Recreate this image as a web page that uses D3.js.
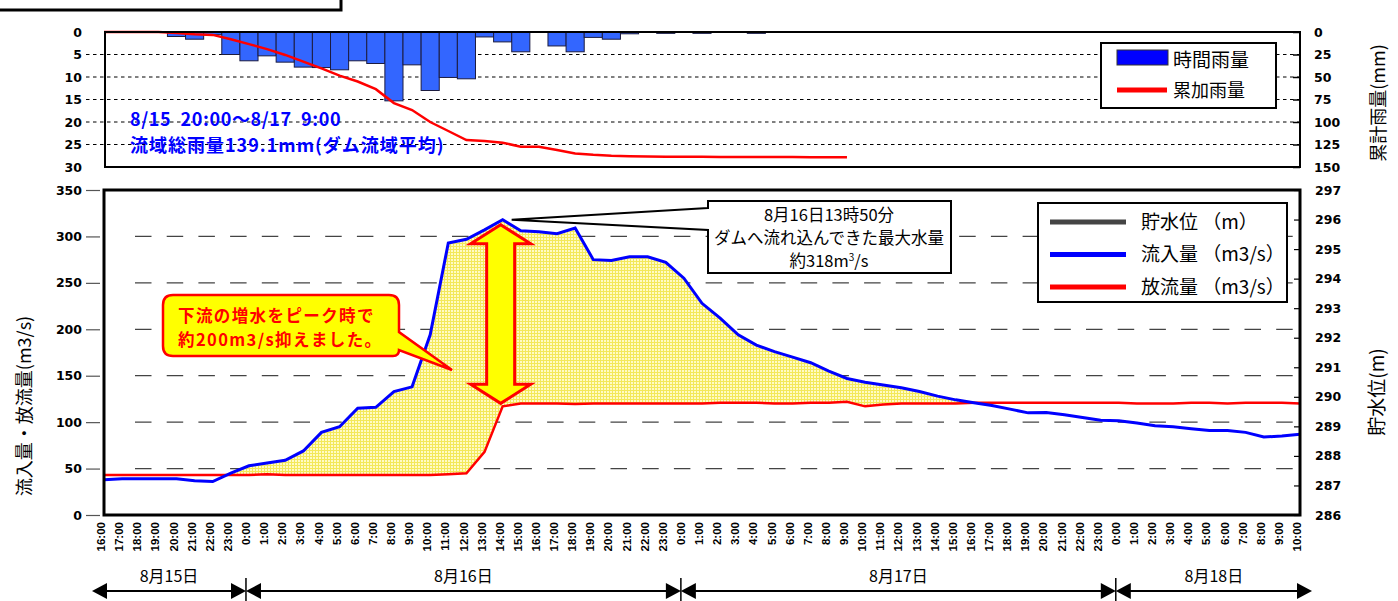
<!DOCTYPE html>
<html>
<head>
<meta charset="utf-8">
<script src="https://cdn.jsdelivr.net/npm/d3@7"></script>
<style>
  body { margin: 0; background: #fff; }
  svg { display: block; }
  .num text { font-family: "DejaVu Sans", sans-serif; font-weight: bold; font-size: 12.5px; fill: #000; }
  .jp { font-family: "Noto Sans CJK JP", sans-serif; }
</style>
</head>
<body>
<div id="svg-container"></div>
<script>
////////////////////////////////////////////////////////////////////
////////////////////////////  Data  ////////////////////////////////
const timeLabels = (
  "16:00 17:00 18:00 19:00 20:00 21:00 22:00 23:00 " +
  "0:00 1:00 2:00 3:00 4:00 5:00 6:00 7:00 8:00 9:00 10:00 11:00 12:00 13:00 14:00 15:00 16:00 17:00 18:00 19:00 20:00 21:00 22:00 23:00 " +
  "0:00 1:00 2:00 3:00 4:00 5:00 6:00 7:00 8:00 9:00 10:00 11:00 12:00 13:00 14:00 15:00 16:00 17:00 18:00 19:00 20:00 21:00 22:00 23:00 " +
  "0:00 1:00 2:00 3:00 4:00 5:00 6:00 7:00 8:00 9:00 10:00"
).split(" ");

const days = ["8月15日", "8月16日", "8月17日", "8月18日"];
const dayStart = [0, 8, 32, 56]; // index of first hour of each day

// 時間雨量 (mm)
const rainHourly = [
  0, 0, 0, 0, 1.0, 1.6, 0.6, 5.0,
  6.4, 5.3, 6.7, 7.8, 7.9, 8.4, 6.4, 7.0, 15.3, 7.3, 13.0, 10.1, 10.4, 1.1, 2.2, 4.4,
  0, 3.1, 4.4, 1.2, 1.6, 0.4, 0.1, 0.3,
  0, 0.3, 0, 0, 0.3, 0, 0, 0, 0, 0, 0, 0, 0, 0, 0, 0, 0, 0, 0, 0, 0, 0, 0, 0,
  0, 0, 0, 0, 0, 0, 0, 0, 0, 0, 0
];
// 累加雨量 (mm), until 8/17 9:00
const rainCumulative = [
  0, 0, 0, 0, 1, 2.5, 3.2, 8,
  13.5, 19, 25.5, 33, 40.5, 48.5, 55, 63.5, 79, 86.7, 100, 110, 120, 121, 123, 127.5,
  127.5, 131, 135, 136.5, 137.5, 138, 138.3, 138.5,
  138.5, 138.7, 138.8, 138.8, 138.9, 139, 139, 139.1, 139.1, 139.1
];
// 流入量 (m3/s)
const inflow = [
  38, 39, 39, 39, 39, 37, 36, 45,
  53, 56, 59, 69, 89, 95, 115, 116, 133, 138, 194, 293, 297, 307, 318, 306,
  305, 303, 309, 275, 274, 278, 278, 272,
  255, 228, 212, 194, 183, 176, 170, 164, 155, 147, 143, 140, 137, 133, 128, 124,
  121, 118, 114, 110, 110.5, 108, 105, 102,
  101.5, 99, 96, 95, 93, 91, 91, 89, 84, 85, 87
];
// 放流量 (m3/s)
const outflow = [
  43, 43, 43, 43, 43, 43, 43, 43,
  43, 44, 43, 43, 43, 43, 43, 43, 43, 43, 43, 44, 45, 68, 117, 120,
  120, 120, 119.5, 120, 120, 120, 120, 120,
  120, 120, 121, 121, 121, 120, 120, 121, 121, 122, 117, 119, 120, 120, 120, 120,
  121, 121, 121, 121, 121, 121, 121, 121,
  121, 120, 120, 120, 121, 121, 120, 121, 121, 121, 120
];

const rainTicks = [0, 5, 10, 15, 20, 25, 30];
const cumTicks = [0, 25, 50, 75, 100, 125, 150];
const flowTicks = [0, 50, 100, 150, 200, 250, 300, 350];
const levelTicks = [286, 287, 288, 289, 290, 291, 292, 293, 294, 295, 296, 297];
const peakIndex = 22;

////////////////////////////////////////////////////////////////////
////////////////////////////  Init  ////////////////////////////////
const width = 1398, height = 601;
const svg = d3.select("#svg-container").append("svg")
  .attr("width", width).attr("height", height);

const top1 = { left: 105, right: 1300, top: 32, bottom: 167 };
const top2 = { left: 104, right: 1300, top: 190, bottom: 515 };

const xScale = d3.scalePoint().domain(d3.range(timeLabels.length)).range([top2.left, top2.right]);
const step = xScale.step();

const yRain = d3.scaleLinear().domain([0, 30]).range([top1.top, top1.bottom]);
const yCum = d3.scaleLinear().domain([0, 150]).range([top1.top, top1.bottom]);
const yFlow = d3.scaleLinear().domain([0, 350]).range([top2.bottom, top2.top]);
const yLevel = d3.scaleLinear().domain([286, 297]).range([top2.bottom, top2.top]);

// pattern for the held-back water
const defs = svg.append("defs");
const pat = defs.append("pattern").attr("id", "dots")
  .attr("width", 3).attr("height", 3).attr("patternUnits", "userSpaceOnUse");
pat.append("rect").attr("width", 3).attr("height", 3).attr("fill", "#fffbc4");
pat.append("rect").attr("width", 1).attr("height", 3).attr("fill", "#f3e85a");
pat.append("rect").attr("width", 3).attr("height", 1).attr("fill", "#f3e85a");

// title box (cut off at top)
svg.append("rect").attr("x", -4).attr("y", -30).attr("width", 345).attr("height", 40)
  .attr("fill", "none").attr("stroke", "#000").attr("stroke-width", 3);

////////////////////////////////////////////////////////////////////
////////////////////////////  Rain chart  //////////////////////////
// grid
svg.append("g").selectAll("line")
  .data(rainTicks.slice(1, -1))
  .join("line")
  .attr("x1", 86).attr("x2", top1.right)
  .attr("y1", (d) => yRain(d)).attr("y2", (d) => yRain(d))
  .attr("stroke", "#000").attr("stroke-width", 1).attr("stroke-dasharray", "3.5,3.5");

// bars
svg.append("g").selectAll("rect")
  .data(rainHourly.map((v, i) => ({ v, i })).filter((d) => d.v > 0))
  .join("rect")
  .attr("x", (d) => xScale(d.i) - step / 2)
  .attr("width", step)
  .attr("y", yRain(0))
  .attr("height", (d) => yRain(d.v) - yRain(0))
  .attr("fill", "#3366ff")
  .attr("stroke", "#1c1c40").attr("stroke-width", 1);

// cumulative
const cumLine = d3.line().x((d, i) => xScale(i)).y((d) => yCum(d));
svg.append("path").datum(rainCumulative)
  .attr("d", cumLine).attr("fill", "none")
  .attr("stroke", "#ff0000").attr("stroke-width", 2.5);

// frame
svg.append("rect")
  .attr("x", top1.left).attr("y", top1.top)
  .attr("width", top1.right - top1.left).attr("height", top1.bottom - top1.top)
  .attr("fill", "none").attr("stroke", "#000").attr("stroke-width", 2);

// axes
svg.append("g").attr("class", "num")
  .attr("transform", `translate(${86},0)`)
  .call(d3.axisLeft(yRain).tickValues(rainTicks).tickSize(0).tickPadding(4))
  .call((g) => g.select(".domain").remove());

svg.append("g").attr("class", "num")
  .attr("transform", `translate(${top1.right},0)`)
  .call(d3.axisRight(yCum).tickValues(cumTicks).tickSize(-7).tickPadding(14))
  .call((g) => g.select(".domain").remove())
  .call((g) => g.selectAll("line").attr("stroke-width", 1.5));

svg.append("text").attr("class", "jp")
  .attr("transform", `translate(1379,103) rotate(-90)`)
  .attr("text-anchor", "middle").attr("dy", "0.35em")
  .attr("font-size", 18).attr("fill", "#000").text("累計雨量(mm)");

// legend
const lg1 = svg.append("g");
lg1.append("rect").attr("x", 1101).attr("y", 43).attr("width", 175).attr("height", 65)
  .attr("fill", "#fff").attr("stroke", "#000").attr("stroke-width", 2);
lg1.append("rect").attr("x", 1117).attr("y", 50).attr("width", 51).attr("height", 15)
  .attr("fill", "#0000ff").attr("stroke", "#333").attr("stroke-width", 1);
lg1.append("line").attr("x1", 1117).attr("x2", 1167).attr("y1", 90).attr("y2", 90)
  .attr("stroke", "#ff0000").attr("stroke-width", 5);
lg1.append("text").attr("class", "jp").attr("x", 1173).attr("y", 60).attr("dy", "0.36em")
  .attr("font-size", 19).text("時間雨量");
lg1.append("text").attr("class", "jp").attr("x", 1173).attr("y", 91).attr("dy", "0.36em")
  .attr("font-size", 18).text("累加雨量");

// total rain note
const note = svg.append("g").attr("class", "jp")
  .attr("fill", "#0000ff").attr("font-weight", "bold").attr("font-size", 18);
note.append("text").attr("x", 130).attr("y", 120).attr("dy", "0.36em")
  .attr("xml:space", "preserve").attr("letter-spacing", 0.6).text("8/15  20:00～8/17  9:00");
note.append("text").attr("x", 130).attr("y", 146).attr("dy", "0.36em")
  .attr("letter-spacing", 1).text("流域総雨量139.1mm(ダム流域平均)");

////////////////////////////////////////////////////////////////////
////////////////////////////  Flow chart  //////////////////////////
// grid
svg.append("g").selectAll("line")
  .data(flowTicks.slice(1, -1))
  .join("line")
  .attr("x1", 135).attr("x2", top2.right)
  .attr("y1", (d) => yFlow(d)).attr("y2", (d) => yFlow(d))
  .attr("stroke", "#444").attr("stroke-width", 1.2).attr("stroke-dasharray", "16.5,15.2");

// fill between inflow and outflow
const area = d3.area()
  .x((d, i) => xScale(i))
  .y0((d, i) => yFlow(outflow[i]))
  .y1((d, i) => yFlow(Math.max(d, outflow[i])));
svg.append("path").datum(inflow).attr("d", area).attr("fill", "url(#dots)");

const flowLine = d3.line().x((d, i) => xScale(i)).y((d) => yFlow(d));
svg.append("path").datum(outflow).attr("d", flowLine)
  .attr("fill", "none").attr("stroke", "#ff0000").attr("stroke-width", 2.5);
svg.append("path").datum(inflow).attr("d", flowLine)
  .attr("fill", "none").attr("stroke", "#0000ff").attr("stroke-width", 3);

// frame
svg.append("rect")
  .attr("x", top2.left).attr("y", top2.top)
  .attr("width", top2.right - top2.left).attr("height", top2.bottom - top2.top)
  .attr("fill", "none").attr("stroke", "#000").attr("stroke-width", 3);

// axes
svg.append("g").attr("class", "num")
  .attr("transform", `translate(${top2.left},0)`)
  .call(d3.axisLeft(yFlow).tickValues(flowTicks).tickSize(18).tickPadding(4))
  .call((g) => g.select(".domain").remove())
  .call((g) => g.selectAll("line").attr("stroke", "#555").attr("stroke-width", 1.2).attr("x2", -18).attr("x1", -4));

svg.append("g").attr("class", "num")
  .attr("transform", `translate(${top2.right},0)`)
  .call(d3.axisRight(yLevel).tickValues(levelTicks).tickSize(-6).tickPadding(15))
  .call((g) => g.select(".domain").remove())
  .call((g) => g.selectAll("line").attr("stroke-width", 1.2));

svg.append("text").attr("class", "jp")
  .attr("transform", `translate(25,406) rotate(-90)`)
  .attr("text-anchor", "middle").attr("dy", "0.35em")
  .attr("font-size", 18).attr("fill", "#000").text("流入量・放流量(m3/s)");
svg.append("text").attr("class", "jp")
  .attr("transform", `translate(1377,392) rotate(-90)`)
  .attr("text-anchor", "middle").attr("dy", "0.35em")
  .attr("font-size", 19).attr("fill", "#000").text("貯水位(m)");

// time labels
svg.append("g")
  .attr("transform", `translate(0,${top2.bottom})`)
  .call(d3.axisBottom(xScale).tickSize(0).tickFormat((i) => timeLabels[i]))
  .call((g) => g.select(".domain").remove())
  .call((g) => g.selectAll("text")
    .attr("transform", "rotate(-90)")
    .attr("x", -7).attr("y", 0).attr("dy", "0.05em")
    .attr("text-anchor", "end")
    .attr("font-family", "'Liberation Sans', Arial, sans-serif")
    .attr("font-weight", "bold").attr("font-size", 11.5).attr("fill", "#000"));

// legend
const lg2 = svg.append("g");
lg2.append("rect").attr("x", 1038).attr("y", 203).attr("width", 249).attr("height", 99)
  .attr("fill", "#fff").attr("stroke", "#000").attr("stroke-width", 2);
const lg2Items = [
  { label: "貯水位 （m）", color: "#444" },
  { label: "流入量 （m3/s）", color: "#0000ff" },
  { label: "放流量 （m3/s）", color: "#ff0000" },
];
lg2Items.forEach((d, k) => {
  const yy = 222 + k * 32.5;
  lg2.append("line").attr("x1", 1050).attr("x2", 1126).attr("y1", yy).attr("y2", yy)
    .attr("stroke", d.color).attr("stroke-width", 5);
  lg2.append("text").attr("class", "jp").attr("x", 1141).attr("y", yy).attr("dy", "0.36em")
    .attr("font-size", 19).attr("xml:space", "preserve").text(d.label);
});

////////////////////////////////////////////////////////////////////
////////////////////////////  Annotations  /////////////////////////
// peak call-out box
const px = xScale(peakIndex) + 9, py = yFlow(inflow[peakIndex]);
svg.append("path")
  .attr("d", `M708,208 L${px},${py} L708,230 V273 H951 V201 H708 Z`)
  .attr("fill", "#fff").attr("stroke", "#000").attr("stroke-width", 2);
const peakText = svg.append("text").attr("class", "jp").attr("text-anchor", "middle")
  .attr("font-size", 16.5).attr("fill", "#000");
peakText.append("tspan").attr("x", 829).attr("y", 221).text("8月16日13時50分");
peakText.append("tspan").attr("x", 829).attr("y", 244).text("ダムへ流れ込んできた最大水量");
const t3 = peakText.append("tspan").attr("x", 829).attr("y", 267).text("約318m");
t3.append("tspan").attr("dy", -6).attr("font-size", 10).text("3");
t3.append("tspan").attr("dy", 6).text("/s");

// double arrow between inflow and outflow
const ax = xScale(peakIndex) - 2;
const aTop = yFlow(inflow[peakIndex]) + 5, aBot = yFlow(outflow[peakIndex]) - 3;
const hw = 30, sw = 14, hh = 19;
svg.append("path")
  .attr("d", `M${ax},${aTop} L${ax + hw},${aTop + hh} L${ax + sw},${aTop + hh} L${ax + sw},${aBot - hh}
    L${ax + hw},${aBot - hh} L${ax},${aBot} L${ax - hw},${aBot - hh} L${ax - sw},${aBot - hh}
    L${ax - sw},${aTop + hh} L${ax - hw},${aTop + hh} Z`)
  .attr("fill", "#ffff00").attr("stroke", "#ff0000").attr("stroke-width", 3)
  .attr("stroke-linejoin", "miter");

// speech bubble
svg.append("path")
  .attr("d", "M173,295 H389 Q399,295 399,305 V332 L452,370 L399,350 Q399,356 393,356 H173 Q163,356 163,346 V305 Q163,295 173,295 Z")
  .attr("fill", "#ffff00").attr("stroke", "#ff0000").attr("stroke-width", 2.5);
const bub = svg.append("g").attr("class", "jp").attr("fill", "#ff0000")
  .attr("font-weight", "bold").attr("font-size", 16.5).attr("letter-spacing", 1.4);
bub.append("text").attr("x", 178).attr("y", 322).text("下流の増水をピーク時で");
bub.append("text").attr("x", 178).attr("y", 346).text("約200m3/s抑えました。");

////////////////////////////////////////////////////////////////////
////////////////////////////  Day arrows  //////////////////////////
const arrowY = 591;
const dayEdge = dayStart.map((i) => xScale(i) - 3);
dayEdge[0] = xScale(0) - 12;
dayEdge.push(xScale(timeLabels.length - 1) + 12);

const dayG = svg.append("g");
days.forEach((d, k) => {
  const x0 = dayEdge[k], x1 = dayEdge[k + 1];
  dayG.append("line").attr("x1", x0 + 4).attr("x2", x1 - 4).attr("y1", arrowY).attr("y2", arrowY)
    .attr("stroke", "#000").attr("stroke-width", 2);
  dayG.append("path").attr("d", `M${x0},${arrowY} l15,-8 v16 Z`).attr("fill", "#000");
  dayG.append("path").attr("d", `M${x1},${arrowY} l-15,-8 v16 Z`).attr("fill", "#000");
  dayG.append("text").attr("class", "jp").attr("x", (x0 + x1) / 2).attr("y", 576)
    .attr("dy", "0.36em").attr("text-anchor", "middle").attr("font-size", 16).text(d);
});
dayEdge.slice(1, -1).forEach((e) => {
  dayG.append("line").attr("x1", e).attr("x2", e).attr("y1", 578).attr("y2", 604)
    .attr("stroke", "#000").attr("stroke-width", 1.5);
});
</script>
</body>
</html>
